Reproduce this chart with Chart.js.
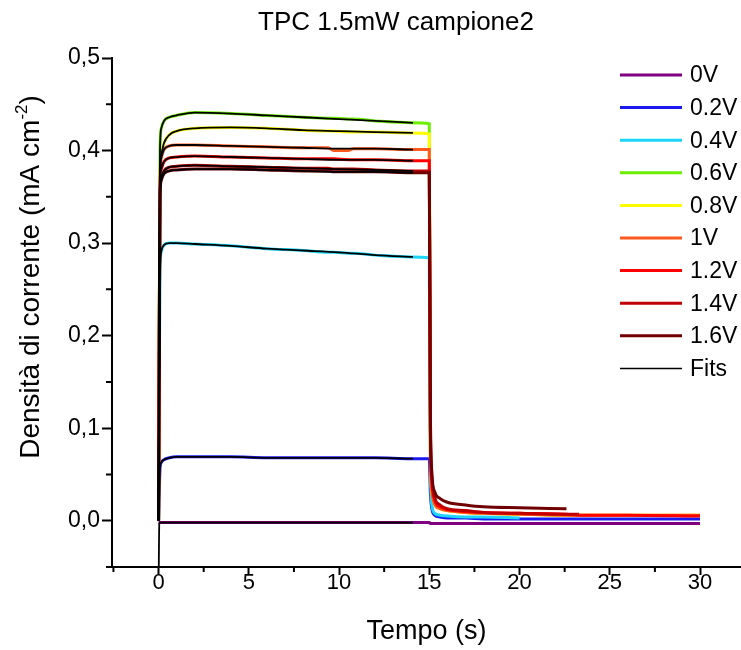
<!DOCTYPE html>
<html>
<head>
<meta charset="utf-8">
<script src="https://cdn.jsdelivr.net/npm/chart.js@4.4.1/dist/chart.umd.min.js"></script>
<style>
  html, body { margin: 0; padding: 0; background: #fff; }
  canvas { display: block; }
</style>
</head>
<body>
<canvas id="tpc" width="741" height="650"></canvas>
<script>
// time (s) shared by the measured curves
const tempo = [0, 0.04, 0.08, 0.15, 0.3, 0.6, 1, 2, 4, 6, 8, 9.4, 9.7, 10.5, 10.8, 12, 14, 15,
  15.06, 15.15, 15.3, 15.6, 16, 17, 18, 20, 22.6, 23.3, 26, 30];

// current density (mA cm-2), one array per bias
const v0 = [-0.002, -0.002, -0.002, -0.002, -0.002, -0.002, -0.002, -0.002, -0.002, -0.002, -0.002, -0.002, -0.002, -0.002, -0.002, -0.002, -0.002, -0.002,
  -0.003, -0.003, -0.003, -0.003, -0.003, -0.003, -0.003, -0.003, -0.003, -0.003, -0.003, -0.003];
const v02 = [0.000, 0.030, 0.057, 0.063, 0.066, 0.068, 0.069, 0.069, 0.069, 0.068, 0.068, 0.068, 0.068, 0.068, 0.068, 0.068, 0.067, 0.067,
  0.030, 0.012, 0.006, 0.004, 0.003, 0.003, 0.002, 0.002, 0.002, 0.002, 0.002, 0.002];
const v04 = [0.000, 0.150, 0.270, 0.291, 0.298, 0.300, 0.300, 0.299, 0.297, 0.294, 0.292, 0.290, 0.290, 0.289, 0.289, 0.287, 0.285, 0.284,
  0.060, 0.016, 0.008, 0.006, 0.005, 0.004, 0.004, 0.003, null, null, null, null];
const v06 = [0.000, 0.220, 0.400, 0.424, 0.432, 0.436, 0.438, 0.441, 0.440, 0.438, 0.436, 0.435, 0.435, 0.434, 0.434, 0.432, 0.430, 0.429,
  0.080, 0.030, 0.018, 0.013, 0.011, 0.009, 0.008, 0.007, 0.006, 0.006, null, null];
const v08 = [0.000, 0.200, 0.370, 0.395, 0.408, 0.417, 0.421, 0.424, 0.425, 0.424, 0.422, 0.421, 0.421, 0.420, 0.420, 0.420, 0.419, 0.418,
  0.080, 0.030, 0.018, 0.013, 0.011, 0.009, 0.008, 0.007, 0.006, 0.006, 0.006, 0.006];
const v1 = [0.000, 0.200, 0.370, 0.392, 0.401, 0.405, 0.406, 0.406, 0.405, 0.404, 0.403, 0.403, 0.400, 0.400, 0.402, 0.402, 0.401, 0.401,
  0.080, 0.030, 0.018, 0.013, 0.011, 0.009, 0.008, 0.007, 0.006, 0.006, 0.006, 0.006];
const v12 = [0.000, 0.200, 0.360, 0.380, 0.388, 0.392, 0.393, 0.394, 0.393, 0.392, 0.391, 0.391, 0.391, 0.390, 0.390, 0.390, 0.389, 0.389,
  0.100, 0.040, 0.022, 0.015, 0.012, 0.010, 0.009, 0.008, 0.007, 0.006, 0.006, 0.005];
const v14 = [0.000, 0.200, 0.350, 0.370, 0.378, 0.382, 0.383, 0.384, 0.383, 0.382, 0.381, 0.381, 0.380, 0.380, 0.380, 0.379, 0.378, 0.378,
  0.100, 0.045, 0.025, 0.017, 0.013, 0.011, 0.009, 0.008, 0.007, 0.007, null, null];
const v16 = [0.000, 0.200, 0.350, 0.368, 0.375, 0.378, 0.379, 0.380, 0.380, 0.379, 0.378, 0.378, 0.377, 0.377, 0.377, 0.377, 0.376, 0.376,
  0.120, 0.050, 0.031, 0.024, 0.020, 0.017, 0.015, 0.014, 0.013, null, null, null];

// fits (black), only over the light-on part
const tempoFit = [0, 0.04, 0.08, 0.15, 0.3, 0.6, 1, 2, 4, 6, 8, 10, 12, 14.1];
const fit0 = [-0.080, -0.003, -0.002, -0.002, -0.002, -0.002, -0.002, -0.002, -0.002, -0.002, -0.002, -0.002, -0.002, -0.002];
const fit02 = [0.000, 0.030, 0.057, 0.063, 0.066, 0.068, 0.069, 0.069, 0.069, 0.068, 0.068, 0.068, 0.068, 0.067];
const fit04 = [0.000, 0.150, 0.270, 0.291, 0.298, 0.300, 0.300, 0.299, 0.297, 0.294, 0.292, 0.290, 0.287, 0.285];
const fit06 = [0.000, 0.220, 0.400, 0.424, 0.432, 0.436, 0.438, 0.441, 0.440, 0.438, 0.436, 0.434, 0.432, 0.430];
const fit08 = [0.000, 0.200, 0.370, 0.395, 0.408, 0.417, 0.421, 0.424, 0.425, 0.424, 0.422, 0.421, 0.420, 0.419];
const fit1 = [0.000, 0.200, 0.370, 0.392, 0.401, 0.405, 0.406, 0.406, 0.405, 0.404, 0.403, 0.402, 0.402, 0.401];
const fit12 = [0.000, 0.200, 0.360, 0.380, 0.388, 0.392, 0.393, 0.394, 0.393, 0.392, 0.391, 0.390, 0.390, 0.389];
const fit14 = [0.000, 0.200, 0.350, 0.370, 0.378, 0.382, 0.383, 0.384, 0.383, 0.382, 0.381, 0.380, 0.379, 0.378];
const fit16 = [0.000, 0.200, 0.350, 0.368, 0.375, 0.378, 0.379, 0.380, 0.380, 0.379, 0.378, 0.377, 0.377, 0.376];

const etichette = ['0V', '0.2V', '0.4V', '0.6V', '0.8V', '1V', '1.2V', '1.4V', '1.6V'];
const colori = ['#800080', '#1a1af0', '#1ed4f8', '#6cf000', '#ffff00', '#ff5a1e', '#ff0000', '#c00000', '#700000'];
const misure = [v0, v02, v04, v06, v08, v1, v12, v14, v16];
const fits = [fit0, fit02, fit04, fit06, fit08, fit1, fit12, fit14, fit16];

// minor ticks (no labels)
const xMinori = [-2.5, 2.5, 7.5, 12.5, 17.5, 22.5, 27.5, 32.5];
const yMinori = [-0.05, 0.05, 0.15, 0.25, 0.35, 0.45];

const titolo = 'TPC 1.5mW campione2';
const titoloY = ['Densità di corrente (mA cm', '-2', ')'];

const FONT = '"Liberation Sans", Arial, sans-serif';

function punti(ts, vs) {
  return vs.map((v, i) => ({ x: ts[i], y: v }));
}

const datasets = [];
misure.forEach((serie, i) => {
  datasets.push({
    label: etichette[i],
    data: punti(tempo, serie),
    borderColor: colori[i],
    borderWidth: 3,
    pointRadius: 0,
    cubicInterpolationMode: 'monotone',
    order: 20 - i   // later curves drawn on top
  });
});
fits.forEach((serie, i) => {
  datasets.push({
    label: 'Fits',
    data: punti(tempoFit, serie),
    borderColor: '#000',
    borderWidth: 1.8,
    pointRadius: 0,
    cubicInterpolationMode: 'monotone',
    order: 0
  });
});

// small ticks between the labelled ones
const tacchePiccole = {
  id: 'tacchePiccole',
  afterDraw(chart) {
    const { ctx, chartArea, scales } = chart;
    ctx.save();
    ctx.strokeStyle = '#000';
    ctx.lineWidth = 2;
    ctx.beginPath();
    xMinori.forEach(v => {
      const px = scales.x.getPixelForValue(v);
      if (px < chartArea.left || px > chartArea.right) return;
      ctx.moveTo(px, chartArea.bottom);
      ctx.lineTo(px, chartArea.bottom + 5);
    });
    yMinori.forEach(v => {
      const py = scales.y.getPixelForValue(v);
      ctx.moveTo(chartArea.left, py);
      ctx.lineTo(chartArea.left - 6, py);
    });
    // x axis runs a little past the y axis
    ctx.moveTo(chartArea.left - 5, chartArea.bottom);
    ctx.lineTo(chartArea.left, chartArea.bottom);
    ctx.stroke();
    ctx.restore();
  }
};

// chart title and y title (with superscript)
const titoli = {
  id: 'titoli',
  afterDraw(chart) {
    const ctx = chart.ctx;
    ctx.save();
    ctx.fillStyle = '#000';
    ctx.textBaseline = 'middle';
    ctx.textAlign = 'center';
    ctx.font = '26px ' + FONT;
    ctx.fillText(titolo, 396, 23);

    // y title, rotated
    ctx.translate(31, 277);
    ctx.rotate(-Math.PI / 2);
    ctx.textAlign = 'left';
    const fGrande = '28px ' + FONT, fPiccolo = '17px ' + FONT;
    ctx.font = fGrande;
    const w0 = ctx.measureText(titoloY[0]).width;
    const w2 = ctx.measureText(titoloY[2]).width;
    ctx.font = fPiccolo;
    const w1 = ctx.measureText(titoloY[1]).width;
    let x = -(w0 + w1 + w2) / 2;
    ctx.font = fGrande;
    ctx.fillText(titoloY[0], x, 0);
    x += w0;
    ctx.font = fPiccolo;
    ctx.fillText(titoloY[1], x, -9);
    x += w1;
    ctx.font = fGrande;
    ctx.fillText(titoloY[2], x, 0);
    ctx.restore();
  }
};

// legend inside the plot, top right
const legenda = {
  id: 'legenda',
  afterDraw(chart) {
    const ctx = chart.ctx;
    const voci = etichette.map((t, i) => ({ testo: t, colore: colori[i], spessore: 3 }));
    voci.push({ testo: 'Fits', colore: '#000', spessore: 1.5 });
    ctx.save();
    ctx.font = '23px ' + FONT;
    ctx.textBaseline = 'middle';
    ctx.fillStyle = '#000';
    voci.forEach((v, i) => {
      const y = 75 + i * 32.6;
      ctx.strokeStyle = v.colore;
      ctx.lineWidth = v.spessore;
      ctx.beginPath();
      ctx.moveTo(620, y);
      ctx.lineTo(682, y);
      ctx.stroke();
      ctx.fillText(v.testo, 690, y + 1);
    });
    ctx.restore();
  }
};

const ctx = document.getElementById('tpc').getContext('2d');
const grafico = new Chart(ctx, {
  type: 'line',
  data: { datasets: datasets },
  plugins: [tacchePiccole, titoli, legenda],
  options: {
    responsive: false,
    animation: false,
    devicePixelRatio: 1,
    layout: { padding: { left: 0, right: 0, top: 58, bottom: 0 } },
    plugins: {
      legend: { display: false },
      tooltip: { enabled: false },
      title: { display: false }
    },
    scales: {
      x: {
        type: 'linear',
        min: -2.58,
        max: 32.27,
        afterFit: s => { s.height = 83; },
        border: { color: '#000', width: 2 },
        grid: { drawOnChartArea: false, tickLength: 8, tickColor: '#000', tickWidth: 2 },
        ticks: {
          stepSize: 5,
          includeBounds: false,
          color: '#000',
          padding: -5,
          maxRotation: 0,
          font: { family: FONT, size: 22 }
        },
        title: {
          display: true,
          text: 'Tempo (s)',
          color: '#000',
          font: { family: FONT, size: 27 },
          padding: { top: 0, bottom: 2 }
        }
      },
      y: {
        min: -0.05,
        max: 0.5,
        afterFit: s => { s.width = 112; },
        border: { color: '#000', width: 2 },
        grid: { drawOnChartArea: false, tickLength: 10, tickColor: '#000', tickWidth: 2 },
        ticks: {
          stepSize: 0.1,
          includeBounds: false,
          color: '#000',
          padding: 2,
          font: { family: FONT, size: 23 },
          callback: v => v.toFixed(1).replace('.', ',')
        }
      }
    }
  }
});
</script>
</body>
</html>
